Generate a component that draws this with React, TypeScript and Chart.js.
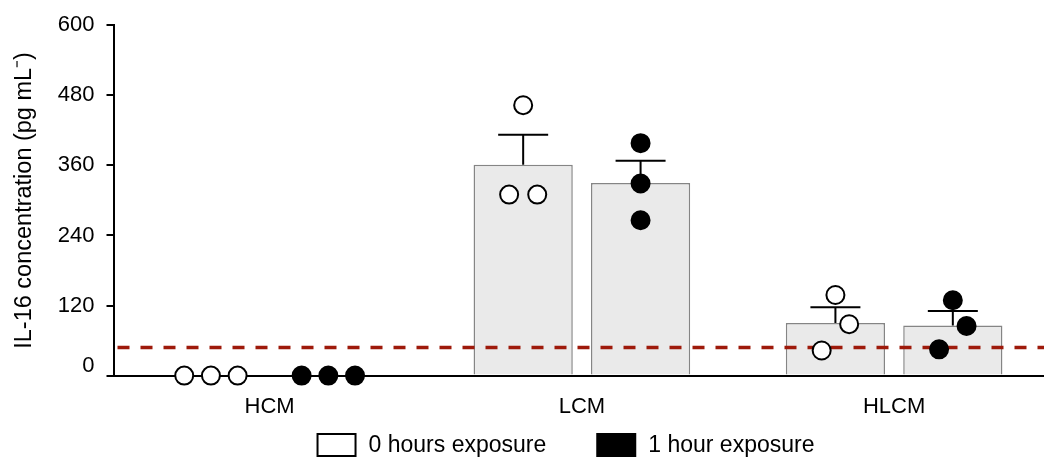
import React, { useEffect, useRef } from 'react';
import { Chart, registerables } from 'chart.js';

Chart.register(...registerables);

const categories = ['HCM', 'LCM', 'HLCM'];
const seriesLabels = ['0 hours exposure', '1 hour exposure'];
const mean0h = [0, 361, 90];
const mean1h = [0, 330, 86];
const sem0h = [0, 51.5, 27];
const sem1h = [0, 38, 24.5];
const points0h = [[0, 0, 0], [463, 310, 310], [138, 88, 43]];
const points1h = [[0, 0, 0], [398, 329, 266], [129, 85, 45]];
// horizontal jitter of individual points, in category-width units
const jitter0h = [[-0.0855, 0, 0.0855], [0, -0.045, 0.045], [0, 0.044, -0.044]];
const jitter1h = [[-0.0855, 0, 0.0855], [0, 0, 0], [0, 0.044, -0.044]];
const detectionLimit = 48;
const yTicks = [0, 120, 240, 360, 480, 600];
const yTitle = 'IL-16 concentration (pg mL\u207B)';

const FONT = '"Liberation Sans", Arial, Helvetica, sans-serif';
const CAT_PCT = 0.752;
const BAR_PCT = 0.845;
const pointFills = ['#ffffff', '#000000'];
const means = [mean0h, mean1h];
const sems = [sem0h, sem1h];

function scatterData(points: number[][], jitter: number[][], groupOffset: number) {
  const out: { x: number; y: number }[] = [];
  points.forEach((vals, i) => {
    vals.forEach((v, j) => {
      out.push({ x: i + groupOffset + jitter[i][j], y: v });
    });
  });
  return out;
}

const errorBarPlugin = {
  id: 'errorBars',
  afterDatasetDraw(chart: any, args: any) {
    if (args.meta.type !== 'bar') return;
    const idx = args.index;
    const y = chart.scales.y;
    const ctx = chart.ctx;
    ctx.save();
    ctx.strokeStyle = '#000';
    ctx.lineWidth = 2;
    args.meta.data.forEach((bar: any, i: number) => {
      const s = sems[idx][i];
      if (!s) return;
      const yBase = y.getPixelForValue(means[idx][i]);
      const yTop = y.getPixelForValue(means[idx][i] + s);
      ctx.beginPath();
      ctx.moveTo(bar.x, yBase);
      ctx.lineTo(bar.x, yTop);
      ctx.moveTo(bar.x - 25, yTop);
      ctx.lineTo(bar.x + 25, yTop);
      ctx.stroke();
    });
    if (idx === 0) {
      const area = chart.chartArea;
      const yl = y.getPixelForValue(detectionLimit);
      ctx.strokeStyle = '#9e1a0b';
      ctx.lineWidth = 3.5;
      ctx.setLineDash([12, 11]);
      ctx.beginPath();
      ctx.moveTo(area.left + 4, yl);
      ctx.lineTo(area.right, yl);
      ctx.stroke();
    }
    ctx.restore();
  },
};

const legendPlugin = {
  id: 'boxLegend',
  afterDraw(chart: any) {
    const ctx = chart.ctx;
    ctx.save();
    ctx.font = `23px ${FONT}`;
    ctx.textBaseline = 'middle';
    ctx.textAlign = 'left';
    const boxW = 38;
    const boxH = 22;
    const textGap = 13;
    const itemGap = 51;
    const items = seriesLabels.map((t, i) => ({
      text: t,
      fill: pointFills[i],
      w: boxW + textGap + ctx.measureText(t).width,
    }));
    const total = items.reduce((a, it) => a + it.w, 0) + itemGap * (items.length - 1);
    let x = 566 - total / 2;
    const cy = 445;
    items.forEach((it) => {
      ctx.fillStyle = it.fill;
      ctx.fillRect(x, cy - boxH / 2, boxW, boxH);
      ctx.strokeStyle = '#000';
      ctx.lineWidth = 2;
      ctx.strokeRect(x, cy - boxH / 2, boxW, boxH);
      ctx.fillStyle = '#000';
      ctx.fillText(it.text, x + boxW + textGap, cy + 1);
      x += it.w + itemGap;
    });
    ctx.restore();
  },
};

export default function App() {
  const ref = useRef<HTMLCanvasElement>(null);
  useEffect(() => {
    Chart.defaults.font.family = FONT;
    const groupOffset = CAT_PCT / 4;
    const chart = new Chart(ref.current as HTMLCanvasElement, {
      type: 'bar',
      data: {
        datasets: [
          {
            type: 'bar',
            label: seriesLabels[0],
            data: mean0h.map((v, i) => ({ x: i, y: v })),
            backgroundColor: '#eaeaea',
            borderColor: '#858585',
            borderWidth: 1.5,
            categoryPercentage: CAT_PCT,
            barPercentage: BAR_PCT,
            order: 3,
          },
          {
            type: 'bar',
            label: seriesLabels[1],
            data: mean1h.map((v, i) => ({ x: i, y: v })),
            backgroundColor: '#eaeaea',
            borderColor: '#858585',
            borderWidth: 1.5,
            categoryPercentage: CAT_PCT,
            barPercentage: BAR_PCT,
            order: 4,
          },
          {
            type: 'scatter',
            label: seriesLabels[0] + ' points',
            data: scatterData(points0h, jitter0h, -groupOffset),
            backgroundColor: pointFills[0],
            borderColor: '#000',
            borderWidth: 2,
            pointRadius: 9,
            clip: false,
            order: 2,
          },
          {
            type: 'scatter',
            label: seriesLabels[1] + ' points',
            data: scatterData(points1h, jitter1h, groupOffset),
            backgroundColor: pointFills[1],
            borderColor: '#000',
            borderWidth: 2,
            pointRadius: 9,
            clip: false,
            order: 1,
          },
        ] as any,
      },
      options: {
        responsive: false,
        animation: false,
        layout: { autoPadding: false, padding: { top: 22, right: 0, bottom: 30, left: 0 } },
        plugins: { legend: { display: false }, tooltip: { enabled: false } },
        scales: {
          x: {
            type: 'linear',
            min: -0.5,
            max: 2.48,
            offset: false,
            grid: { display: false, offset: false },
            border: { display: true, color: '#000', width: 2 },
            afterBuildTicks: (s: any) => {
              s.ticks = categories.map((_, i) => ({ value: i }));
            },
            ticks: {
              color: '#000',
              font: { size: 22 },
              padding: 10,
              maxRotation: 0,
              callback: (v: any) => categories[v] ?? '',
            },
          },
          y: {
            type: 'linear',
            min: 0,
            max: 600,
            afterBuildTicks: (s: any) => {
              s.ticks = yTicks.map((v) => ({ value: v }));
            },
            afterFit: (s: any) => {
              s.width = 113.5;
            },
            grid: { drawOnChartArea: false, drawTicks: true, tickLength: 7, color: '#000', lineWidth: 2 },
            border: { display: true, color: '#000', width: 2 },
            ticks: {
              color: '#000',
              padding: 12,
              font: (c: any) => ({ size: 22, lineHeight: c.tick && c.tick.value === 0 ? 0.9 : 1.2 }),
              callback: (v: any) => (v === 0 ? ['0', ''] : String(v)),
            },
            title: {
              display: true,
              text: yTitle,
              color: '#000',
              font: { size: 23.5 },
              padding: { top: 10, bottom: 0 },
            },
          },
        } as any,
      },
      plugins: [errorBarPlugin, legendPlugin],
    });
    return () => chart.destroy();
  }, []);
  return (
    <div style={{ position: 'absolute', left: 0, top: 0, width: 1044, height: 460, background: '#fff' }}>
      <canvas ref={ref} width={1044} height={460} style={{ display: 'block' }} />
    </div>
  );
}
